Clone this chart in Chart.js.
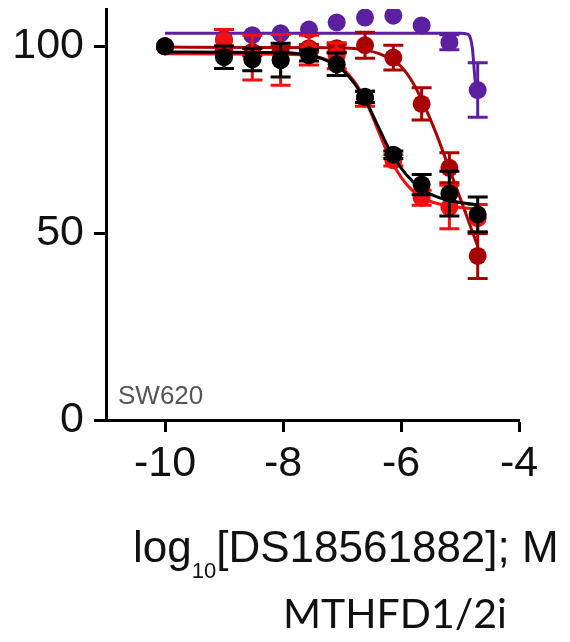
<!DOCTYPE html>
<html><head><meta charset="utf-8">
<script src="https://cdn.jsdelivr.net/npm/chart.js@4/dist/chart.umd.min.js"></script>
<style>
html,body{margin:0;padding:0;background:#fff;}
#wrap{position:relative;width:570px;height:642px;overflow:hidden;}
#c{position:absolute;left:0;top:0;}
.t{position:absolute;white-space:nowrap;color:#111;line-height:1;}
#xt{left:133px;top:522px;font:44px "Liberation Sans",Arial,sans-serif;}
#xt sub{font-size:22px;vertical-align:-16px;line-height:0;}
#cap{left:283px;top:588px;font:41px Lato,sans-serif;}
#cell{left:118px;top:380px;font:26px "Liberation Sans",Arial,sans-serif;color:#555;}
</style>
</head><body>
<div id="wrap">
<canvas id="c" width="570" height="642"></canvas>
<div class="t" id="cell">SW620</div>
<div class="t" id="xt">log<sub>10</sub>[DS18561882]; M</div>
<div class="t" id="cap">MTHFD1/2i</div>
</div>
<script>
// ---- data ----
const doses = [-10, -9.0, -8.52, -8.04, -7.56, -7.09, -6.61, -6.13, -5.65, -5.18, -4.7];
const blackVals = [100, 97.1, 96.5, 96.3, 97.6, 95.2, 86.5, 71.0, 63.0, 60.6, 55.0];
const blackErr  = [0, 3.0, 3.0, 4.5, 1.5, 3.0, 1.5, 1.0, 2.7, 6.0, 4.7];
const redVals   = [100, 101.5, 97.0, 96.4, 99.0, 97.5, 86.0, 69.5, 59.5, 57.0, 54.0];
const redErr    = [0, 3.0, 6.0, 6.8, 4.0, 3.5, 2.0, 1.5, 2.0, 5.8, 3.7];
const darkRedVals = [100, 99.0, 98.5, 99.0, 99.5, 99.5, 100.3, 97.0, 84.6, 67.5, 43.9];
const darkRedErr  = [0, 1.0, 1.0, 1.0, 1.0, 1.0, 3.5, 3.3, 4.3, 4.0, 6.0];
const purpleVals = [100, 102.0, 103.0, 103.5, 104.5, 106.4, 107.7, 108.2, 105.6, 101.1, 88.3];
const purpleErr  = [0, 0, 0, 0, 0, 0, 0, 0, 0, 2.0, 7.3];

const blackCurveX = [-10, -8, -7.5, -7.2, -7.0, -6.8, -6.6, -6.4, -6.2, -6.0, -5.8, -5.6, -5.4, -5.2, -5.0, -4.7];
const blackCurveY = [98.5, 98.3, 97.5, 95.8, 93.8, 90.3, 85.5, 79.0, 72.5, 67.5, 63.8, 61.3, 59.8, 58.8, 58.2, 57.6];
const redCurveX = [-10, -8, -7.5, -7.2, -7.0, -6.8, -6.6, -6.4, -6.2, -6.0, -5.8, -5.6, -5.4, -5.2, -5.0, -4.7];
const redCurveY = [98.0, 97.9, 97.4, 96.0, 94.2, 90.8, 85.5, 78.0, 70.5, 65.0, 61.3, 59.2, 58.0, 57.3, 56.9, 56.5];
const darkRedCurveX = [-10, -7, -6.6, -6.3, -6.0, -5.8, -5.6, -5.4, -5.2, -5.0, -4.85, -4.7];
const darkRedCurveY = [99.8, 99.6, 99.0, 97.6, 94.6, 90.3, 84.0, 76.5, 68.0, 59.5, 53.0, 46.5];
const purpleCurveX = [-10, -5.0, -4.86, -4.82, -4.79, -4.77, -4.75, -4.72];
const purpleCurveY = [103.5, 103.5, 103.2, 102.0, 99.5, 96.0, 92.0, 88.0];

const xTicks = [-10, -8, -6, -4];
const yTicks = [0, 50, 100];

const COL = {black:'#000000', red:'#f01010', darkRed:'#a80000', purple:'#5b1fa0'};

function pts(xs, ys){ return xs.map((x,i)=>({x:x, y:ys[i]})); }
function pointSet(label, ys, err, color){
  return {type:'scatter', label, data:pts(doses, ys), err, showLine:false,
    pointRadius:9, pointHoverRadius:9, backgroundColor:color, borderColor:color, borderWidth:0};
}
function curveSet(label, xs, ys, color){
  return {type:'line', label, data:pts(xs, ys), showLine:true, pointRadius:0,
    borderColor:color, borderWidth:3, fill:false, cubicInterpolationMode:'monotone'};
}

const errorBars = {
  id:'errorBars',
  beforeDatasetDraw(chart, args){
    const ds = chart.data.datasets[args.index];
    if(!ds.err) return;
    const xs = chart.scales.x, ys = chart.scales.y, ctx = chart.ctx;
    ctx.save();
    ctx.strokeStyle = ds.borderColor; ctx.lineWidth = 3; ctx.lineCap='butt';
    ds.data.forEach((p,i)=>{
      const e = ds.err[i]; if(!e) return;
      const px = xs.getPixelForValue(p.x);
      const top = ys.getPixelForValue(p.y + e), bot = ys.getPixelForValue(p.y - e);
      ctx.beginPath();
      ctx.moveTo(px, top); ctx.lineTo(px, bot);
      ctx.moveTo(px-10, top); ctx.lineTo(px+10, top);
      ctx.moveTo(px-10, bot); ctx.lineTo(px+10, bot);
      ctx.stroke();
    });
    ctx.restore();
  }
};

new Chart(document.getElementById('c'), {
  type:'scatter',
  data:{datasets:[
    pointSet('black', blackVals, blackErr, COL.black),
    curveSet('black fit', blackCurveX, blackCurveY, COL.black),
    pointSet('red', redVals, redErr, COL.red),
    curveSet('red fit', redCurveX, redCurveY, COL.red),
    pointSet('dark red', darkRedVals, darkRedErr, COL.darkRed),
    curveSet('dark red fit', darkRedCurveX, darkRedCurveY, COL.darkRed),
    pointSet('purple', purpleVals, purpleErr, COL.purple),
    curveSet('purple fit', purpleCurveX, purpleCurveY, COL.purple)
  ]},
  plugins:[errorBars],
  options:{
    responsive:false, animation:false, devicePixelRatio:1,
    layout:{padding:{top:6, right:51, bottom:0, left:0}},
    plugins:{legend:{display:false}, tooltip:{enabled:false}},
    scales:{
      x:{type:'linear', min:-11, max:-4,
        afterBuildTicks(s){ s.ticks = xTicks.map(v=>({value:v})); },
        afterFit(s){ s.height = 222; s.paddingLeft = 0; s.paddingRight = 0; },
        grid:{drawOnChartArea:false, drawTicks:true, tickLength:12, tickWidth:3, tickColor:'#000'},
        border:{display:true, color:'#000', width:3},
        ticks:{font:{family:'"Liberation Sans", Arial, sans-serif', size:43}, color:'#111', padding:6, maxRotation:0}
      },
      y:{type:'linear', min:0, max:110,
        afterBuildTicks(s){ s.ticks = yTicks.map(v=>({value:v})); },
        afterFit(s){ s.width = 106; s.paddingTop = 0; s.paddingBottom = 0; },
        grid:{drawOnChartArea:false, drawTicks:true, tickLength:12, tickWidth:3, tickColor:'#000'},
        border:{display:true, color:'#000', width:3},
        ticks:{font:{family:'"Liberation Sans", Arial, sans-serif', size:43}, color:'#111', padding:10}
      }
    }
  }
});
</script>
</body></html>
